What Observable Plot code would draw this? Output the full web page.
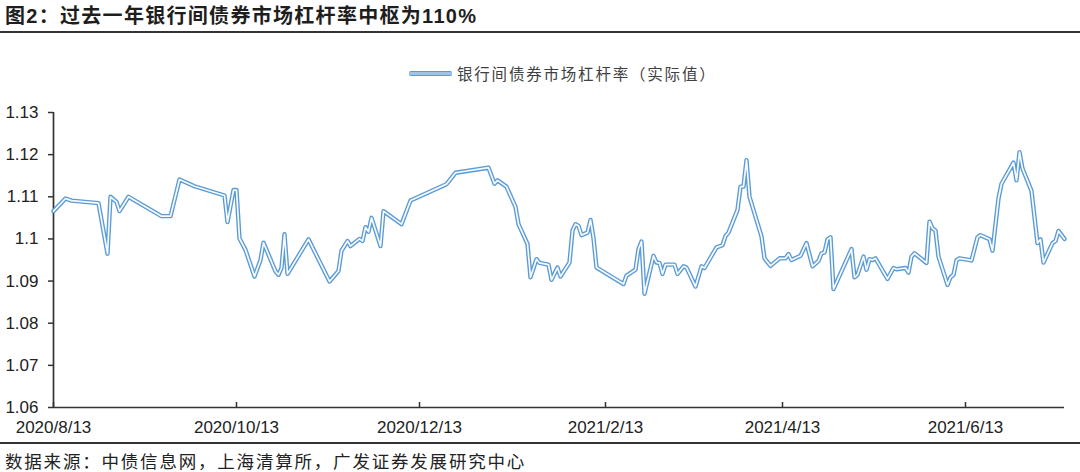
<!DOCTYPE html>
<html>
<head>
<meta charset="utf-8">
<script src="https://cdn.jsdelivr.net/npm/d3@7"></script>
<script src="https://cdn.jsdelivr.net/npm/@observablehq/plot@0.6"></script>
<style>
  body { margin: 0; background: #fff; }
  #wrap { position: relative; width: 1080px; height: 472px; overflow: hidden; background: #fff; }
  #title { position: absolute; left: 5px; top: 5px; font: bold 20px/22px "Liberation Sans", "Noto Sans CJK SC", sans-serif; color: #1e1e1e; white-space: nowrap; letter-spacing: 1.3px; }
  #rule1 { position: absolute; left: 0; top: 31px; width: 1080px; height: 2px; background: #333; }
  #chart { position: absolute; left: 0; top: 34px; }
  #legend { position: absolute; left: 409px; top: 62px; height: 22px; display: flex; align-items: center; font: 15.5px/22px "Noto Sans CJK SC", sans-serif; color: #404040; letter-spacing: 1.8px; white-space: nowrap; }
  #legend .swatch { width: 43px; height: 3px; background: #9DC3E6; border-top: 1px solid #5B9BD5; border-bottom: 1px solid #5B9BD5; border-radius: 2px; margin-right: 5px; }
  #rule2 { position: absolute; left: 0; top: 442px; width: 1080px; height: 2px; background: #333; }
  #source { position: absolute; left: 5px; top: 450px; font: 17.5px/22px "Noto Sans CJK SC", sans-serif; color: #222; letter-spacing: 1.8px; white-space: nowrap; }
</style>
</head>
<body>
<div id="wrap">
  <div id="title"></div>
  <div id="rule1"></div>
  <div id="chart"></div>
  <div id="legend"><div class="swatch"></div><span id="legendText"></span></div>
  <div id="rule2"></div>
  <div id="source"></div>
</div>
<script>
const title = "图2：过去一年银行间债券市场杠杆率中枢为110%";
const seriesName = "银行间债券市场杠杆率（实际值）";
const source = "数据来源：中债信息网，上海清算所，广发证券发展研究中心";

const dates = [
  "2020-08-13","2020-08-17","2020-08-19","2020-08-28","2020-08-31","2020-09-01","2020-09-03","2020-09-04","2020-09-07","2020-09-18",
  "2020-09-21","2020-09-24","2020-09-29","2020-10-09","2020-10-10","2020-10-12","2020-10-13","2020-10-14","2020-10-16","2020-10-19",
  "2020-10-21","2020-10-22","2020-10-26","2020-10-27","2020-10-28","2020-10-29","2020-10-30","2020-11-06","2020-11-13","2020-11-16",
  "2020-11-17","2020-11-19","2020-11-20","2020-11-23","2020-11-24","2020-11-25","2020-11-26","2020-11-27","2020-11-30","2020-12-01",
  "2020-12-07","2020-12-10","2020-12-22","2020-12-25","2021-01-05","2021-01-07","2021-01-08","2021-01-11","2021-01-14","2021-01-15",
  "2021-01-18","2021-01-19","2021-01-21","2021-01-22","2021-01-25","2021-01-26","2021-01-28","2021-01-29","2021-02-01","2021-02-02",
  "2021-02-03","2021-02-04","2021-02-05","2021-02-07","2021-02-08","2021-02-09","2021-02-10","2021-02-19","2021-02-20","2021-02-23",
  "2021-02-24","2021-02-25","2021-02-26","2021-03-01","2021-03-02","2021-03-03","2021-03-04","2021-03-05","2021-03-08","2021-03-09",
  "2021-03-11","2021-03-12","2021-03-15","2021-03-17","2021-03-18","2021-03-22","2021-03-24","2021-03-25","2021-03-26","2021-03-29",
  "2021-03-30","2021-03-31","2021-04-01","2021-04-02","2021-04-06","2021-04-07","2021-04-09","2021-04-12","2021-04-14","2021-04-15",
  "2021-04-16","2021-04-19","2021-04-21","2021-04-23","2021-04-25","2021-04-26","2021-04-27","2021-04-28","2021-04-29","2021-04-30",
  "2021-05-06","2021-05-07","2021-05-08","2021-05-10","2021-05-11","2021-05-12","2021-05-13","2021-05-14","2021-05-18","2021-05-20",
  "2021-05-21","2021-05-24","2021-05-25","2021-05-26","2021-05-27","2021-05-31","2021-06-01","2021-06-02","2021-06-03","2021-06-04",
  "2021-06-07","2021-06-08","2021-06-09","2021-06-10","2021-06-11","2021-06-15","2021-06-17","2021-06-18","2021-06-21","2021-06-22",
  "2021-06-24","2021-06-25","2021-06-29","2021-06-30","2021-07-01","2021-07-02","2021-07-05","2021-07-07","2021-07-08","2021-07-09",
  "2021-07-12","2021-07-13","2021-07-14","2021-07-16"
];
const values = [
  1.1066,1.1096,1.1091,1.1085,1.0965,1.1100,1.1088,1.1066,1.1100,1.1054,
  1.1054,1.1141,1.1125,1.1103,1.1040,1.1116,1.1116,1.1001,1.0974,1.0911,
  1.0950,1.0991,1.0923,1.0915,1.0931,1.1011,1.0917,1.0999,1.0899,1.0924,
  1.0972,1.0995,1.0983,1.1000,1.0995,1.1028,1.1017,1.1050,1.0983,1.1066,
  1.1035,1.1091,1.1130,1.1157,1.1169,1.1131,1.1139,1.1124,1.1076,1.1035,
  1.0988,1.0909,1.0952,1.0943,1.0939,1.0903,1.0932,1.0911,1.0944,1.1020,
  1.1035,1.1031,1.1009,1.1015,1.1045,1.1002,1.0932,1.0893,1.0913,1.0927,
  1.0976,1.0994,1.0870,1.0960,1.0944,1.0943,1.0917,1.0939,1.0939,1.0917,
  1.0935,1.0932,1.0887,1.0935,1.0931,1.0980,1.0985,1.1007,1.1015,1.1069,
  1.1124,1.1124,1.1187,1.1100,1.1006,1.0954,1.0936,1.0954,1.0954,1.0964,
  1.0950,1.0960,1.0990,1.0935,1.0948,1.0966,1.0968,1.0999,1.1004,1.0881,
  1.0976,1.0909,1.0915,1.0958,1.0927,1.0952,1.0950,1.0954,1.0905,1.0931,
  1.0928,1.0931,1.0920,1.0958,1.0966,1.0943,1.1041,1.1025,1.1020,1.0958,
  1.0891,1.0909,1.0915,1.0949,1.0954,1.0949,1.1004,1.1009,1.0999,1.0972,
  1.1096,1.1131,1.1181,1.1139,1.1206,1.1167,1.1114,1.0990,1.0999,1.0944,
  1.0990,1.0995,1.1019,1.1000
];

const yTicks = [1.06, 1.07, 1.08, 1.09, 1.10, 1.11, 1.12, 1.13];
const yTickLabels = ["1.06", "1.07", "1.08", "1.09", "1.1", "1.11", "1.12", "1.13"];
const xTicks = ["2020-08-13", "2020-10-13", "2020-12-13", "2021-02-13", "2021-04-13", "2021-06-13"];
const xTickLabels = ["2020/8/13", "2020/10/13", "2020/12/13", "2021/2/13", "2021/4/13", "2021/6/13"];
const xDomain = ["2020-08-13", "2021-07-16"];
const yDomain = [1.06, 1.13];

document.getElementById("title").textContent = title;
document.getElementById("legendText").textContent = seriesName;
document.getElementById("source").textContent = source;

const data = dates.map((d, i) => ({date: new Date(d), value: values[i]}));
const xt = xTicks.map(d => new Date(d));
const xd = xDomain.map(d => new Date(d));

const chart = Plot.plot({
  width: 1080,
  height: 410,
  marginTop: 78,
  marginBottom: 37,
  marginLeft: 53,
  marginRight: 16,
  style: {fontFamily: "'Liberation Sans', Arial, sans-serif", fontSize: "17px", color: "#222", background: "white", overflow: "visible"},
  x: {type: "utc", domain: xd},
  y: {domain: yDomain},
  marks: [
    Plot.axisY({ticks: yTicks, tickFormat: d => yTickLabels[yTicks.indexOf(d)], tickSize: 5, tickPadding: 10, label: null, stroke: "#333", strokeWidth: 1.5}),
    Plot.axisX({ticks: xt, tickFormat: d => xTickLabels[xt.findIndex(t => +t === +d)], tickSize: 0, tickPadding: 13, label: null}),
    Plot.ruleX(xt, {y1: yDomain[0], y2: yDomain[0], insetTop: -5, stroke: "#333", strokeWidth: 1.5}),
    Plot.ruleY([yDomain[0]], {stroke: "#333", strokeWidth: 1.7}),
    Plot.ruleX([xd[0]], {y1: yDomain[0], y2: yDomain[1], stroke: "#333", strokeWidth: 1.7}),
    Plot.line(data, {x: "date", y: "value", stroke: "#5B9BD5", strokeWidth: 4.4, strokeLinejoin: "round"}),
    Plot.line(data, {x: "date", y: "value", stroke: "#F7FAFE", strokeWidth: 1.7, strokeLinejoin: "round"})
  ]
});
document.getElementById("chart").appendChild(chart);
</script>
</body>
</html>
